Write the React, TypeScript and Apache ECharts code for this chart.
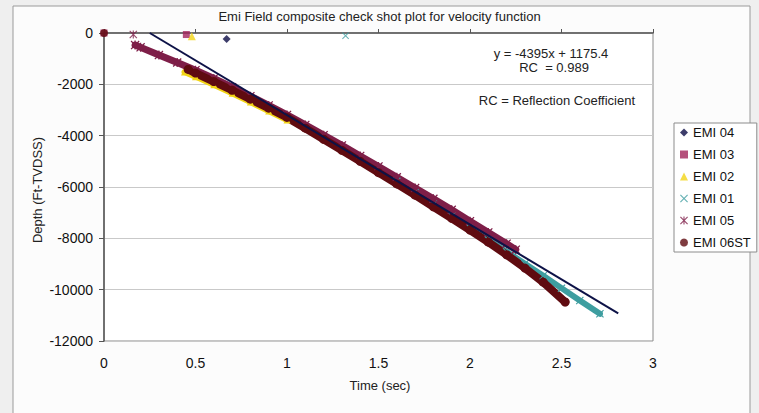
import React, { useEffect, useRef } from "react";
import * as echarts from "echarts";

// ---- data ----
const xTickLabels = ["0", "0.5", "1", "1.5", "2", "2.5", "3"];
const yTickLabels = ["-12000", "-10000", "-8000", "-6000", "-4000", "-2000", "0"];

const seriesNames = ["EMI 04", "EMI 03", "EMI 02", "EMI 01", "EMI 05", "EMI 06ST"];

// surface (zero-depth) points
const emi04Points = [[0.67, -230]];
const emi03Points = [[0, 0], [0.45, -60]];
const emi02Datum = [[0.48, -130]];
const emi01Datum = [[1.32, -110]];
const emi05Datum = [[0.16, -60]];
const emi06Datum = [[0, 0]];

// time-depth curves
const emi02Curve = [[0.44, -1520], [0.5, -1700], [0.6, -2020], [0.7, -2350], [0.8, -2690], [0.9, -3040], [1.0, -3390]];
const emi01Curve = [[1.6, -5780], [1.7, -6220], [1.8, -6670], [1.9, -7130], [2.0, -7600], [2.1, -8060], [2.2, -8520], [2.3, -8990], [2.4, -9460], [2.5, -9940], [2.6, -10420], [2.71, -10940]];
const emi05Curve = [[0.17, -470], [0.2, -560], [0.3, -860], [0.4, -1150], [0.5, -1450], [0.6, -1770], [0.7, -2110], [0.8, -2460], [0.9, -2820], [1.0, -3190], [1.1, -3580], [1.2, -3980], [1.3, -4380], [1.4, -4790], [1.5, -5200], [1.6, -5620], [1.7, -6040], [1.8, -6460], [1.9, -6890], [2.0, -7330], [2.1, -7770], [2.2, -8210], [2.25, -8440]];
const emi06Curve = [[0.46, -1420], [0.5, -1560], [0.6, -1890], [0.7, -2230], [0.8, -2580], [0.9, -2930], [1.0, -3290], [1.1, -3710], [1.2, -4140], [1.3, -4570], [1.4, -5000], [1.5, -5440], [1.6, -5880], [1.7, -6320], [1.8, -6770], [1.9, -7220], [2.0, -7680], [2.1, -8150], [2.2, -8640], [2.3, -9160], [2.4, -9710], [2.52, -10480]];

// linear trend line end points
const trendLine = [[0.25, 0], [2.81, -10920]];

const colors = {
  "EMI 04": "#0b0b45",
  "EMI 03": "#a3245a",
  "EMI 02": "#f2d416",
  "EMI 01": "#3e9ea0",
  "EMI 05": "#7e1e48",
  "EMI 06ST": "#5f0b10",
};

const X_PATH = "path://M1,0L5,4L9,0L10,1L6,5L10,9L9,10L5,6L1,10L0,9L4,5L0,1Z";
const STAR_PATH = "path://M1,0L5,4L9,0L10,1L6,5L10,9L9,10L5,6L1,10L0,9L4,5L0,1ZM4.3,0L5.7,0L5.7,10L4.3,10Z";

const symbols = {
  "EMI 04": "diamond",
  "EMI 03": "rect",
  "EMI 02": "triangle",
  "EMI 01": X_PATH,
  "EMI 05": STAR_PATH,
  "EMI 06ST": "circle",
};

const FONT = "'Liberation Sans', Arial, sans-serif";

export default function App() {
  const ref = useRef<HTMLDivElement>(null);

  useEffect(() => {
    if (!ref.current) return;
    const chart = echarts.init(ref.current, null, { renderer: "svg" });

    const scatter = (name: string, data: number[][], size: number) => ({
      type: "scatter",
      name,
      data,
      symbol: symbols[name],
      symbolSize: size,
      itemStyle: { color: colors[name] },
      clip: false,
      silent: true,
    });

    const band = (name: string, data: number[][], size: number, width: number) => ({
      type: "line",
      name,
      data,
      symbol: symbols[name],
      symbolSize: size,
      showSymbol: true,
      itemStyle: { color: colors[name] },
      lineStyle: { color: colors[name], width, cap: "round", join: "round" },
      clip: false,
      silent: true,
    });

    chart.setOption({
      animation: false,
      backgroundColor: "#efefef",
      title: {
        text: "Emi Field composite check shot plot for velocity function",
        left: "center",
        top: 10,
        padding: 0,
        textStyle: { fontFamily: FONT, fontSize: 13, fontWeight: "normal", color: "#222" },
      },
      graphic: [
        {
          type: "rect",
          z: -10,
          shape: { x: 13, y: 6, width: 737, height: 430 },
          style: { fill: "#fcfcfc", stroke: "#9a9a9a", lineWidth: 1 },
        },
        {
          type: "text",
          x: 551,
          y: 53,
          style: { text: "y = -4395x + 1175.4", fontFamily: FONT, fontSize: 13, fill: "#222", textAlign: "center", textVerticalAlign: "middle" },
        },
        {
          type: "text",
          x: 554,
          y: 67,
          style: { text: "RC  = 0.989", fontFamily: FONT, fontSize: 13, fill: "#222", textAlign: "center", textVerticalAlign: "middle" },
        },
        {
          type: "text",
          x: 635,
          y: 100,
          style: { text: "RC = Reflection Coefficient", fontFamily: FONT, fontSize: 13, fill: "#222", textAlign: "right", textVerticalAlign: "middle" },
        },
        {
          type: "text",
          x: 37,
          y: 190,
          rotation: Math.PI / 2,
          style: { text: "Depth (Ft-TVDSS)", fontFamily: FONT, fontSize: 13, fill: "#222", textAlign: "center", textVerticalAlign: "middle" },
        },
        {
          type: "text",
          x: 380,
          y: 385,
          style: { text: "Time (sec)", fontFamily: FONT, fontSize: 13, fill: "#222", textAlign: "center", textVerticalAlign: "middle" },
        },
      ],
      legend: {
        orient: "vertical",
        left: 674,
        top: 123,
        backgroundColor: "#ffffff",
        borderColor: "#8c8c8c",
        borderWidth: 1,
        borderRadius: 0,
        padding: [3, 6, 3, 6],
        itemGap: 9,
        itemWidth: 8,
        itemHeight: 8,
        textStyle: { fontFamily: FONT, fontSize: 13, color: "#111", lineHeight: 13 },
        data: seriesNames.map((n) => ({ name: n, icon: symbols[n] })),
      },
      grid: {
        left: 104,
        top: 33,
        width: 549,
        height: 308,
        show: true,
        backgroundColor: "#ffffff",
        borderColor: "#8a8a8a",
        borderWidth: 1,
      },
      xAxis: {
        type: "value",
        min: 0,
        max: 3,
        interval: 0.5,
        axisLine: { show: true, lineStyle: { color: "#555", width: 1.5 } },
        axisTick: { show: true, inside: true, length: 4, lineStyle: { color: "#555" } },
        splitLine: { show: false },
        axisLabel: {
          margin: 15,
          fontFamily: FONT,
          fontSize: 14,
          color: "#111",
          formatter: (_v: number, i: number) => xTickLabels[i],
        },
      },
      yAxis: {
        type: "value",
        min: -12000,
        max: 0,
        interval: 2000,
        axisLine: { show: true, lineStyle: { color: "#555", width: 1.5 } },
        axisTick: { show: true, inside: false, length: 5, lineStyle: { color: "#555" } },
        splitLine: { show: true, lineStyle: { color: "#c9c9c9", width: 1 } },
        axisLabel: {
          margin: 11,
          fontFamily: FONT,
          fontSize: 14,
          color: "#111",
          formatter: (_v: number, i: number) => yTickLabels[i],
        },
      },
      series: [
        scatter("EMI 04", emi04Points, 8),
        scatter("EMI 03", emi03Points, 7),
        scatter("EMI 02", emi02Datum, 8),
        band("EMI 02", emi02Curve, 7, 6),
        scatter("EMI 01", emi01Datum, 7),
        band("EMI 01", emi01Curve, 8, 6),
        scatter("EMI 05", emi05Datum, 8),
        band("EMI 05", emi05Curve, 9, 7),
        scatter("EMI 06ST", emi06Datum, 8),
        band("EMI 06ST", emi06Curve, 9, 8),
        {
          type: "line",
          name: "trend",
          data: trendLine,
          symbol: "none",
          lineStyle: { color: "#0d1247", width: 2 },
          clip: false,
          silent: true,
          z: 5,
        },
      ],
    });

    return () => chart.dispose();
  }, []);

  return (
    <div
      ref={ref}
      style={{ position: "fixed", left: 0, top: 0, width: 759, height: 413 }}
    />
  );
}
